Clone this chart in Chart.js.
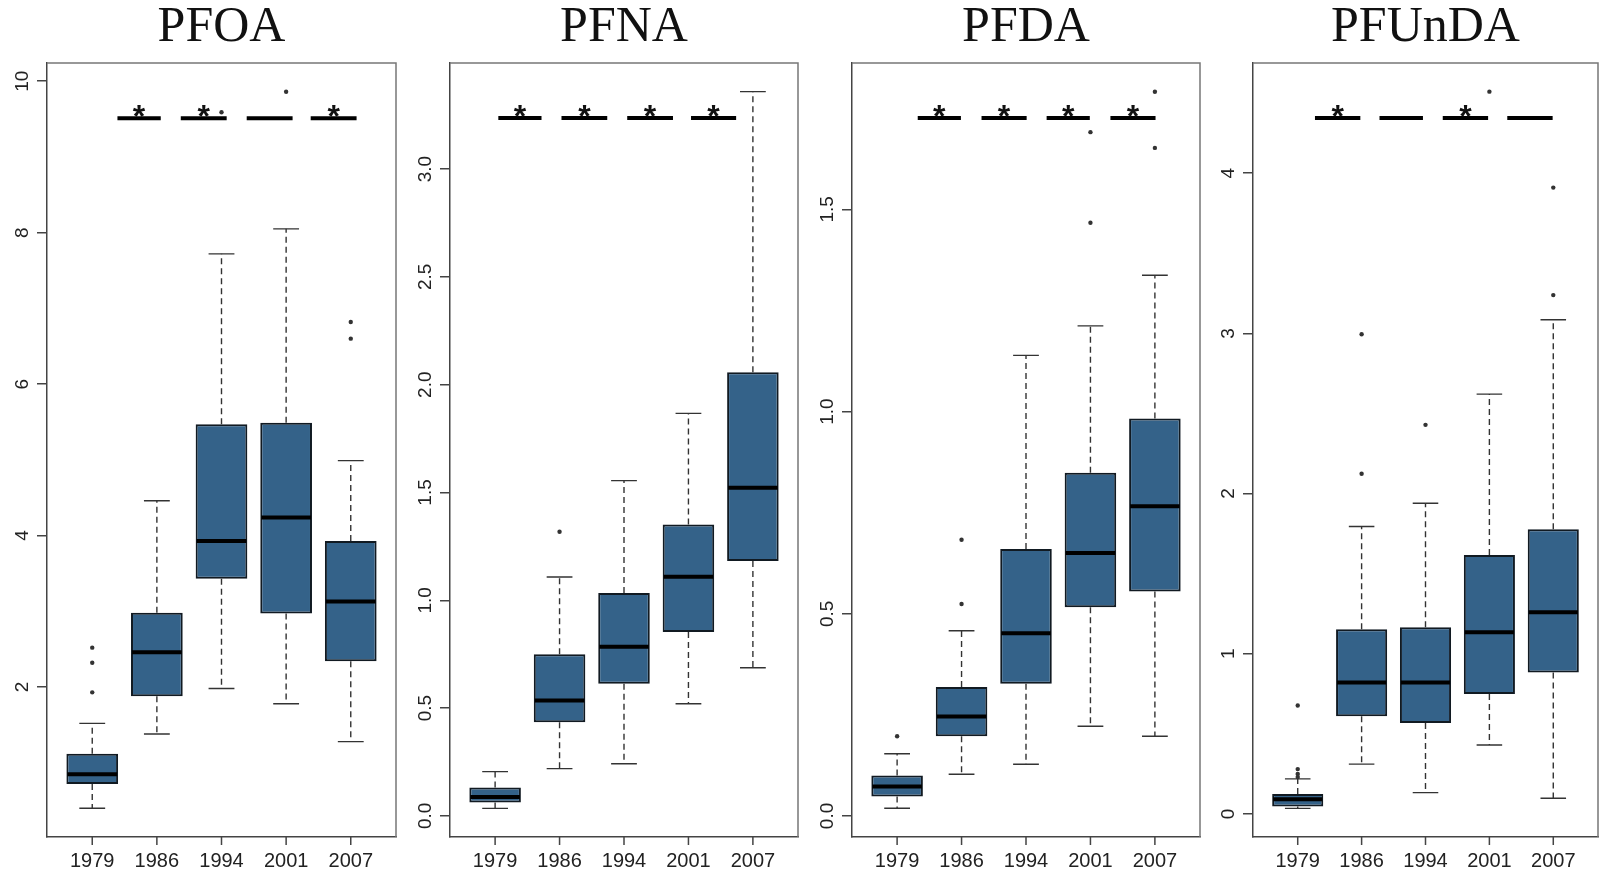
<!DOCTYPE html>
<html>
<head>
<meta charset="utf-8">
<title>PFAS by year</title>
<script src="https://cdn.jsdelivr.net/npm/chart.js@4.4.0/dist/chart.umd.min.js"></script>
<style>
  html, body { margin: 0; padding: 0; background: #fff; }
  #wrap { position: relative; width: 1602px; height: 873px; overflow: hidden; }
  #wrap canvas { position: absolute; top: 0; }
</style>
</head>
<body>
<div id="wrap">
  <canvas id="c0" width="400" height="873" style="left:0px"></canvas>
  <canvas id="c1" width="399" height="873" style="left:403px"></canvas>
  <canvas id="c2" width="399" height="873" style="left:805px"></canvas>
  <canvas id="c3" width="396" height="873" style="left:1206px"></canvas>
</div>
<script>
const years = ["1979", "1986", "1994", "2001", "2007"];
const compounds = ["PFOA", "PFNA", "PFDA", "PFUnDA"];

// box statistics: one row per compound, one column per year
const whiskerLow = [
  [0.40, 1.38, 1.98, 1.78, 1.28],
  [0.035, 0.219, 0.242, 0.52, 0.687],
  [0.019, 0.103, 0.128, 0.222, 0.197],
  [0.035, 0.311, 0.133, 0.43, 0.098]
];
const quartile1 = [
  [0.72, 1.88, 3.43, 2.97, 2.34],
  [0.062, 0.434, 0.613, 0.853, 1.182],
  [0.048, 0.197, 0.327, 0.516, 0.555],
  [0.046, 0.61, 0.568, 0.749, 0.883]
];
const medians = [
  [0.85, 2.46, 3.93, 4.24, 3.13],
  [0.087, 0.535, 0.784, 1.109, 1.522],
  [0.073, 0.246, 0.452, 0.650, 0.766],
  [0.092, 0.821, 0.821, 1.134, 1.259]
];
const quartile3 = [
  [1.12, 2.98, 5.47, 5.49, 3.93],
  [0.132, 0.75, 1.034, 1.351, 2.058],
  [0.100, 0.319, 0.660, 0.849, 0.983],
  [0.125, 1.153, 1.165, 1.616, 1.777]
];
const whiskerHigh = [
  [1.52, 4.46, 7.72, 8.05, 4.99],
  [0.205, 1.108, 1.555, 1.867, 3.359],
  [0.154, 0.458, 1.139, 1.212, 1.337],
  [0.219, 1.794, 1.94, 2.621, 3.085]
];
const outliers = [
  [[1.93, 2.32, 2.52], [], [9.59], [9.86], [6.60, 6.82]],
  [[], [1.318], [], [], []],
  [[0.197], [0.524, 0.683], [], [1.467, 1.691], [1.652, 1.791]],
  [[0.23, 0.25, 0.28, 0.677], [2.124, 2.995], [2.429], [4.509], [3.239, 3.91]]
];

// value axes
const yRanges = [[0.02, 10.24], [-0.098, 3.492], [-0.052, 1.862], [-0.144, 4.688]];
const yTicks = [
  [2, 4, 6, 8, 10],
  [0, 0.5, 1, 1.5, 2, 2.5, 3],
  [0, 0.5, 1, 1.5],
  [0, 1, 2, 3, 4]
];
const yTickLabels = [
  ["2", "4", "6", "8", "10"],
  ["0.0", "0.5", "1.0", "1.5", "2.0", "2.5", "3.0"],
  ["0.0", "0.5", "1.0", "1.5"],
  ["0", "1", "2", "3", "4"]
];

// significance bars between consecutive years, in box positions
const sigLevel = [9.51, 3.237, 1.726, 4.344];
const sigSpans = [
  [[1.39, 2.06], [2.37, 3.08], [3.39, 4.10], [4.38, 5.09]],
  [[1.05, 1.72], [2.03, 2.74], [3.05, 3.76], [4.04, 4.74]],
  [[1.32, 1.99], [2.31, 3.01], [3.32, 3.99], [4.31, 5.01]],
  [[1.27, 1.98], [2.28, 2.96], [3.27, 3.98], [4.28, 4.99]]
];
const sigStars = [[1, 1, 0, 1], [1, 1, 1, 1], [1, 1, 1, 1], [1, 0, 1, 0]];

const BOX_FILL = "#346289";
const INK = "#222";

// whiskers, caps, medians, stars, frame, x tick marks and rotated y labels
function boxParts(k) {
  return {
    id: "boxParts" + k,
    beforeDatasetsDraw(chart) {
      const ctx = chart.ctx;
      const x = chart.scales.x, y = chart.scales.y;
      const boxes = chart.getDatasetMeta(0).data;
      ctx.save();
      ctx.strokeStyle = "#333";
      ctx.lineWidth = 1.4;
      years.forEach((yr, i) => {
        const cx = x.getPixelForValue(i + 1);
        const half = boxes[i].width / 4;
        ctx.setLineDash([6, 4]);
        ctx.beginPath();
        ctx.moveTo(cx, y.getPixelForValue(quartile3[k][i]));
        ctx.lineTo(cx, y.getPixelForValue(whiskerHigh[k][i]));
        ctx.moveTo(cx, y.getPixelForValue(quartile1[k][i]));
        ctx.lineTo(cx, y.getPixelForValue(whiskerLow[k][i]));
        ctx.stroke();
        ctx.setLineDash([]);
        ctx.beginPath();
        [whiskerHigh[k][i], whiskerLow[k][i]].forEach(v => {
          const py = y.getPixelForValue(v);
          ctx.moveTo(cx - half, py);
          ctx.lineTo(cx + half, py);
        });
        ctx.stroke();
      });
      ctx.restore();
    },
    afterDatasetsDraw(chart) {
      const ctx = chart.ctx;
      const x = chart.scales.x, y = chart.scales.y;
      const boxes = chart.getDatasetMeta(0).data;
      ctx.save();
      ctx.strokeStyle = "#000";
      ctx.lineWidth = 4;
      years.forEach((yr, i) => {
        const cx = x.getPixelForValue(i + 1);
        const half = boxes[i].width / 2 - 1;
        const py = y.getPixelForValue(medians[k][i]);
        ctx.beginPath();
        ctx.moveTo(cx - half, py);
        ctx.lineTo(cx + half, py);
        ctx.stroke();
      });
      ctx.fillStyle = "#111";
      ctx.font = "bold 32px 'Liberation Sans'";
      ctx.textAlign = "center";
      ctx.textBaseline = "alphabetic";
      const py = y.getPixelForValue(sigLevel[k]);
      sigSpans[k].forEach((s, j) => {
        if (!sigStars[k][j]) return;
        ctx.fillText("*", x.getPixelForValue((s[0] + s[1]) / 2), py + 9);
      });
      ctx.restore();
    },
    afterDraw(chart) {
      const ctx = chart.ctx;
      const a = chart.chartArea;
      const x = chart.scales.x, y = chart.scales.y;
      ctx.save();
      // top and right sides of the frame, lighter than the axes
      ctx.strokeStyle = "#777";
      ctx.lineWidth = 1.5;
      ctx.beginPath();
      ctx.moveTo(a.left, a.top);
      ctx.lineTo(a.right, a.top);
      ctx.lineTo(a.right, a.bottom);
      ctx.stroke();
      // x tick marks under each box
      ctx.strokeStyle = "#444";
      ctx.beginPath();
      years.forEach((yr, i) => {
        const px = x.getPixelForValue(i + 1);
        ctx.moveTo(px, a.bottom);
        ctx.lineTo(px, a.bottom + 8);
      });
      ctx.stroke();
      ctx.fillStyle = INK;
      ctx.font = "19px 'Liberation Sans'";
      ctx.textAlign = "center";
      ctx.textBaseline = "alphabetic";
      yTicks[k].forEach((v, i) => {
        ctx.save();
        ctx.translate(a.left - 19, y.getPixelForValue(v));
        ctx.rotate(-Math.PI / 2);
        ctx.fillText(yTickLabels[k][i], 0, 0);
        ctx.restore();
      });
      ctx.restore();
    }
  };
}

function makePanel(k) {
  const boxData = years.map((yr, i) => ({ x: i + 1, y: [quartile1[k][i], quartile3[k][i]] }));
  const outlierData = [];
  outliers[k].forEach((list, i) => list.forEach(v => outlierData.push({ x: i + 1, y: v })));
  const sigData = [];
  sigSpans[k].forEach(s => {
    sigData.push({ x: s[0], y: sigLevel[k] }, { x: s[1], y: sigLevel[k] }, { x: s[1] + 0.1, y: null });
  });

  new Chart(document.getElementById("c" + k), {
    type: "bar",
    data: {
      datasets: [
        {
          type: "bar",
          data: boxData,
          backgroundColor: BOX_FILL,
          borderColor: "#111a22",
          borderWidth: 2,
          borderSkipped: false,
          barPercentage: 0.8,
          categoryPercentage: 1
        },
        {
          type: "scatter",
          data: outlierData,
          pointRadius: 2.2,
          pointBackgroundColor: "#333",
          pointBorderWidth: 0
        },
        {
          type: "line",
          data: sigData,
          borderColor: "#000",
          borderWidth: 4,
          borderCapStyle: "butt",
          pointRadius: 0,
          spanGaps: false
        }
      ]
    },
    options: {
      responsive: false,
      animation: false,
      devicePixelRatio: 1,
      layout: { padding: { left: 0, right: 2, top: 0, bottom: 0 } },
      plugins: {
        legend: { display: false },
        tooltip: { enabled: false },
        title: {
          display: true,
          text: compounds[k],
          fullSize: false,
          color: "#111",
          font: { family: "'Liberation Serif'", size: 50, weight: "normal", lineHeight: 1.1 },
          padding: { top: 0, bottom: 8 }
        }
      },
      scales: {
        x: {
          type: "linear",
          min: 0.3,
          max: 5.7,
          bounds: "data",
          offset: false,
          afterBuildTicks: axis => { axis.ticks = years.map((yr, i) => ({ value: i + 1 })); },
          afterFit: axis => { axis.height = 36; },
          ticks: {
            callback: v => years[v - 1],
            autoSkip: false,
            maxRotation: 0,
            padding: 12,
            color: INK,
            font: { family: "'Liberation Sans'", size: 20 }
          },
          grid: { display: false, drawTicks: false },
          border: { color: "#444", width: 1.5 }
        },
        y: {
          min: yRanges[k][0],
          max: yRanges[k][1],
          bounds: "data",
          afterBuildTicks: axis => { axis.ticks = yTicks[k].map(v => ({ value: v })); },
          afterFit: axis => { axis.width = 47; },
          ticks: { display: false },
          grid: { drawOnChartArea: false, tickLength: 10, color: "#444", lineWidth: 1.5 },
          border: { color: "#444", width: 1.5 }
        }
      }
    },
    plugins: [boxParts(k)]
  });
}

compounds.forEach((c, k) => makePanel(k));
</script>
</body>
</html>
